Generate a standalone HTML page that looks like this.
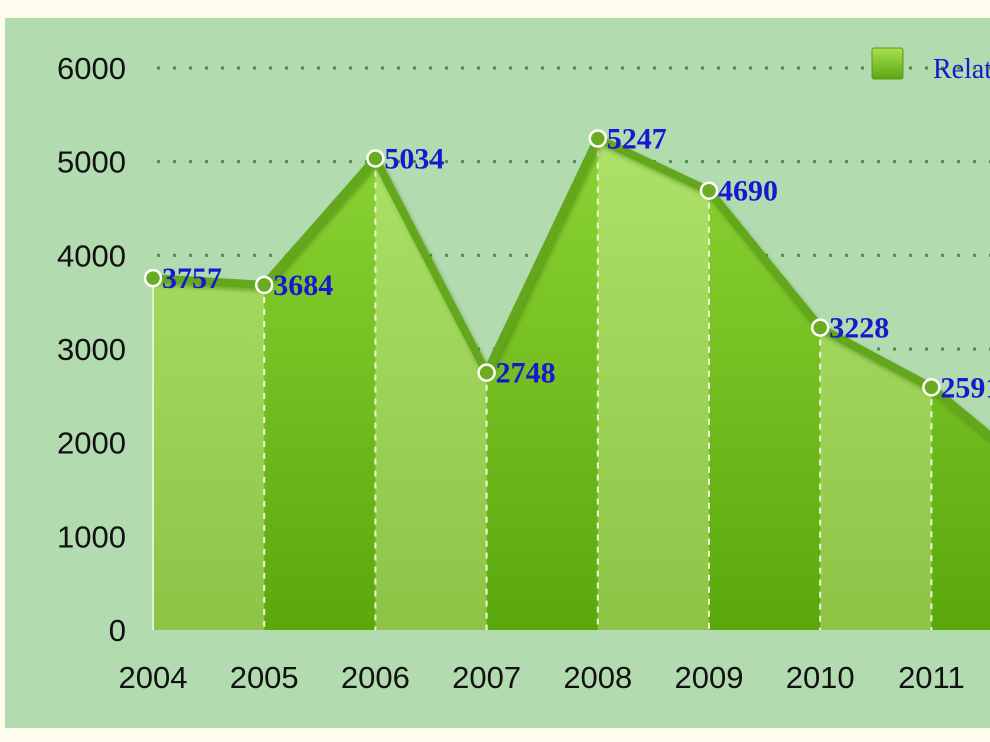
<!DOCTYPE html>
<html><head><meta charset="utf-8"><style>
html,body{margin:0;padding:0;background:#fefcec;}
svg{display:block;}
</style></head><body>
<svg width="990" height="742" xmlns="http://www.w3.org/2000/svg">
<defs>
<linearGradient id="gl" x1="0" y1="0" x2="0" y2="1"><stop offset="0" stop-color="#b6ea72"/><stop offset="1" stop-color="#8dc446"/></linearGradient>
<linearGradient id="gd" x1="0" y1="0" x2="0" y2="1"><stop offset="0" stop-color="#9ae040"/><stop offset="1" stop-color="#5aa80c"/></linearGradient>
<linearGradient id="gleg" x1="0" y1="0" x2="0" y2="1"><stop offset="0" stop-color="#a8e050"/><stop offset="1" stop-color="#5aa812"/></linearGradient>
<clipPath id="areaClip"><polygon id="clipPoly" points=""/></clipPath>
<filter id="sh" x="-10%" y="-10%" width="120%" height="130%"><feDropShadow dx="2" dy="3" stdDeviation="2" flood-color="#3a6a10" flood-opacity="0.45"/></filter>
</defs>
<rect x="5" y="18" width="990" height="710" fill="#b2dcb0"/>
<g id="grid"></g>
<g id="cols" clip-path="url(#areaClip)"></g>
<g id="divs"></g>
<line id="leftEdge" stroke="#dff5c8" stroke-width="2"/>
<polyline id="line" fill="none" stroke="#64a81c" stroke-width="8" stroke-linejoin="round" filter="url(#sh)"/>
<g id="pts"></g>
<g id="yt" font-family="Liberation Sans, sans-serif" font-size="31" fill="#111"></g>
<g id="xt" font-family="Liberation Sans, sans-serif" font-size="31" fill="#111"></g>
<g>
<rect x="872" y="48" width="31" height="31" rx="2" fill="url(#gleg)" stroke="#5a9a18" stroke-width="1"/>
<text x="933" y="78" font-family="Liberation Serif, serif" font-size="28" fill="#1818d0">Related</text>
</g>
</svg>
<script>
const categories=["2004","2005","2006","2007","2008","2009","2010","2011","2012"];
const values=[3757,3684,5034,2748,5247,4690,3228,2591,1610];
const yTicks=[0,1000,2000,3000,4000,5000,6000];
const NS="http://www.w3.org/2000/svg";
const x0=153,dx=111.2,yBase=630,yPer=562/6000;
const X=i=>x0+i*dx, Y=v=>yBase-v*yPer;
function mk(t,a,p){const e=document.createElementNS(NS,t);for(const k in a)e.setAttribute(k,a[k]);p.appendChild(e);return e;}
const grid=document.getElementById('grid'),yt=document.getElementById('yt'),xt=document.getElementById('xt');
yTicks.forEach(v=>{
 if(v>0){const l=mk('line',{x1:157,x2:990,y1:Y(v),y2:Y(v),stroke:'#3f9640','stroke-width':3,'stroke-dasharray':'3 13'},grid);
 
 }
 const t=mk('text',{x:126,y:Y(v)+11,'text-anchor':'end'},yt);t.textContent=v;
 
 
});
categories.forEach((c,i)=>{const t=mk('text',{x:X(i),y:688,'text-anchor':'middle'},xt);t.textContent=c;
 
 });
let pts=categories.map((c,i)=>X(i)+','+Y(values[i]));
document.getElementById('clipPoly').setAttribute('points',pts.join(' ')+' '+X(categories.length-1)+','+yBase+' '+X(0)+','+yBase);
const cols=document.getElementById('cols'),divs=document.getElementById('divs');
for(let i=0;i<categories.length-1;i++){
 const r=mk('rect',{x:X(i),y:0,width:dx+0.5,height:yBase,fill:i%2?'url(#gd)':'url(#gl)'},cols);
 
 
}
for(let i=1;i<categories.length;i++){
 const l=mk('line',{x1:X(i),x2:X(i),y1:Y(values[i]),y2:yBase,stroke:'#ecf8d8','stroke-width':2,'stroke-dasharray':'6 6'},divs);
 
 
}
const le=document.getElementById('leftEdge');
le.setAttribute('x1',X(0));le.setAttribute('x2',X(0));le.setAttribute('y1',Y(values[0]));le.setAttribute('y2',yBase);
document.getElementById('line').setAttribute('points',pts.join(' '));
const pg=document.getElementById('pts');
categories.forEach((c,i)=>{
 const cc=mk('circle',{cx:X(i),cy:Y(values[i]),r:8,fill:'#6aab22',stroke:'#fff','stroke-width':2.5},pg);
 
 
 const t=mk('text',{x:X(i)+9,y:Y(values[i])+10,'font-family':'Liberation Serif, serif','font-size':30,'font-weight':'bold',fill:'#1818d0'},pg);
 t.textContent=values[i];
 
 
});
</script>
</body></html>
